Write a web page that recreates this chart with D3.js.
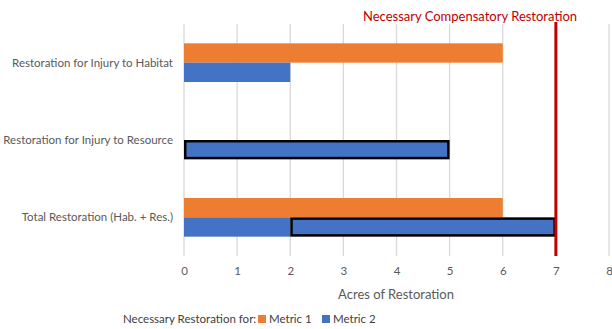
<!DOCTYPE html>
<html>
<head>
<meta charset="utf-8">
<script src="https://cdn.jsdelivr.net/npm/d3@7"></script>
<style>
  body { margin: 0; background: #fff; }
  text { font-family: Lato, "Open Sans", sans-serif; }
</style>
</head>
<body>
<svg width="612" height="329"></svg>
<script>
const svg = d3.select("svg")
const width = +svg.attr("width")
const height = +svg.attr("height")

// categories and values
const categories = ["Restoration for Injury to Habitat", "Restoration for Injury to Resource", "Total Restoration (Hab. + Res.)"]
const metric1 = [6, 0, 6]
const metric2Habitat = [2, 0, 2]   // plain blue part
const metric2Resource = [0, 5, 5]  // outlined blue part
const necessary = 7
const ticks = [0, 1, 2, 3, 4, 5, 6, 7, 8]
const seriesNames = ["Metric 1", "Metric 2"]
const colors = ["#ED7D31", "#4472C4"]

const x = d3.scaleLinear().domain([0, 8]).range([184, 609])
const y = d3.scaleBand().domain(categories).range([24, 256]).paddingInner(0.5).paddingOuter(0.25)
const ySub = d3.scaleBand().domain(seriesNames).range([0, y.bandwidth()])

// gridlines
svg.append("g").selectAll("line")
    .data(ticks)
    .join("line")
    .attr("x1", d => x(d)).attr("x2", d => x(d))
    .attr("y1", 24).attr("y2", 256)
    .attr("stroke", "#d9d9d9")
    .attr("stroke-width", 1.3)

// metric 1
svg.append("g").selectAll("rect")
    .data(categories.map((c, i) => ({c, v: metric1[i]})).filter(d => d.v > 0))
    .join("rect")
    .attr("x", x(0))
    .attr("y", d => y(d.c) + ySub("Metric 1"))
    .attr("width", d => x(d.v) - x(0))
    .attr("height", ySub.bandwidth())
    .attr("fill", colors[0])

// metric 2, habitat part
svg.append("g").selectAll("rect")
    .data(categories.map((c, i) => ({c, v: metric2Habitat[i]})).filter(d => d.v > 0))
    .join("rect")
    .attr("x", x(0))
    .attr("y", d => y(d.c) + ySub("Metric 2"))
    .attr("width", d => x(d.v) - x(0))
    .attr("height", ySub.bandwidth())
    .attr("fill", colors[1])

// metric 2, resource part (outlined, stacked after habitat)
svg.append("g").selectAll("rect")
    .data(categories.map((c, i) => ({c, s: metric2Habitat[i], v: metric2Resource[i]})).filter(d => d.v > 0))
    .join("rect")
    .attr("x", d => x(d.s) + 1.25)
    .attr("y", d => y(d.c) + ySub("Metric 2") + 1.25)
    .attr("width", d => x(d.s + d.v) - x(d.s) - 2.5)
    .attr("height", ySub.bandwidth() - 2.5)
    .attr("fill", colors[1])
    .attr("stroke", "#000")
    .attr("stroke-width", 2.5)

// necessary line
svg.append("line")
    .attr("x1", x(necessary)).attr("x2", x(necessary))
    .attr("y1", 22).attr("y2", 256)
    .attr("stroke", "#C00000")
    .attr("stroke-width", 3)

svg.append("text")
    .attr("x", 470)
    .attr("y", 21)
    .attr("text-anchor", "middle")
    .attr("fill", "#C00000")
    .attr("font-size", 13)
    .text("Necessary Compensatory Restoration")

// category labels
svg.append("g").selectAll("text")
    .data(categories)
    .join("text")
    .attr("x", 173)
    .attr("y", d => y(d) + y.bandwidth() / 2)
    .attr("dy", "0.35em")
    .attr("text-anchor", "end")
    .attr("fill", "#595959")
    .attr("font-size", 11.5)
    .text(d => d)

// x axis
const xAxis = svg.append("g")
    .attr("transform", "translate(0,264)")
    .call(d3.axisBottom(x).tickValues(ticks).tickSize(0).tickFormat(d3.format("d")))
xAxis.select(".domain").remove()
xAxis.selectAll("text")
    .attr("fill", "#595959")
    .attr("font-size", 11.5)
    .style("font-family", "Lato, sans-serif")

svg.append("text")
    .attr("x", 396)
    .attr("y", 299)
    .attr("text-anchor", "middle")
    .attr("fill", "#595959")
    .attr("font-size", 13)
    .text("Acres of Restoration")

// legend
const legend = svg.append("g").attr("transform", "translate(0,323)")
legend.append("text")
    .attr("x", 123).attr("y", 0)
    .attr("fill", "#404040")
    .attr("font-size", 11.5)
    .text("Necessary Restoration for:")
const items = legend.selectAll("g.item")
    .data(seriesNames)
    .join("g")
    .attr("class", "item")
    .attr("transform", (d, i) => `translate(${258 + i * 64},0)`)
items.append("rect")
    .attr("x", 0).attr("y", -8)
    .attr("width", 8).attr("height", 8)
    .attr("fill", (d, i) => colors[i])
items.append("text")
    .attr("x", 11).attr("y", 0)
    .attr("fill", "#404040")
    .attr("font-size", 11.5)
    .text(d => d)
</script>
</body>
</html>
